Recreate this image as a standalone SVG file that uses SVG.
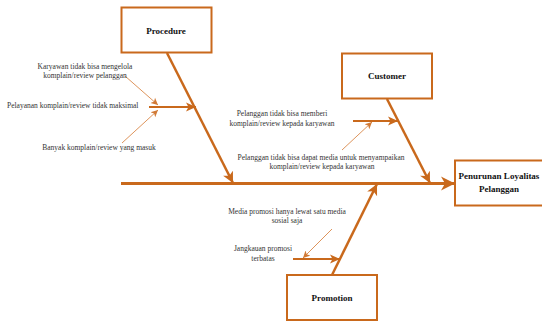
<svg xmlns="http://www.w3.org/2000/svg" width="542" height="322" viewBox="0 0 542 322">
  <style>
    .box { fill: #ffffff; stroke: #C9691C; stroke-width: 2; }
    .title { font-family: "Liberation Serif", "Times New Roman", serif; font-size: 9px; font-weight: bold; fill: #111; text-anchor: middle; }
    .note { font-family: "Liberation Serif", "Times New Roman", serif; font-size: 7.5px; fill: #333; text-anchor: middle; }
    .spine { stroke: #C9691C; stroke-width: 3; fill: none; }
    .bone { stroke: #C9691C; stroke-width: 2.5; fill: none; }
    .sub { stroke: #C9691C; stroke-width: 2; fill: none; }
    .thin { stroke: #D9884A; stroke-width: 0.9; fill: none; }
  </style>
  <defs>
    <marker id="headL" markerUnits="userSpaceOnUse" markerWidth="16" markerHeight="16" refX="14" refY="8" orient="auto">
      <path d="M0,1 L14,8 L0,15 L4,8 z" fill="#C9691C"/>
    </marker>
    <marker id="headM" markerUnits="userSpaceOnUse" markerWidth="14" markerHeight="14" refX="11" refY="6" orient="auto">
      <path d="M0,0.5 L11,6 L0,11.5 L3,6 z" fill="#C9691C"/>
    </marker>
    <marker id="headS" markerUnits="userSpaceOnUse" markerWidth="12" markerHeight="12" refX="10" refY="5" orient="auto">
      <path d="M0,0.5 L10,5 L0,9.5 L2.5,5 z" fill="#C9691C"/>
    </marker>
    <marker id="headT" markerUnits="userSpaceOnUse" markerWidth="10" markerHeight="10" refX="7" refY="4" orient="auto">
      <path d="M0,0.5 L7,4 L0,7.5 L1.8,4 z" fill="#D17A36"/>
    </marker>
  </defs>

  <!-- connectors: spine, category bones, cause arrows -->
  <g id="connectors">
    <line class="spine" x1="121" y1="183.5" x2="455" y2="183.5" marker-end="url(#headL)"/>
    <line class="bone" x1="167" y1="53" x2="233" y2="183" marker-end="url(#headM)"/>
    <line class="bone" x1="387" y1="99" x2="430" y2="183" marker-end="url(#headM)"/>
    <line class="bone" x1="332" y1="275" x2="377" y2="184" marker-end="url(#headM)"/>
    <line class="sub" x1="149" y1="107" x2="196" y2="107" marker-end="url(#headS)"/>
    <line class="sub" x1="353" y1="121" x2="398" y2="121" marker-end="url(#headS)"/>
    <line class="sub" x1="293" y1="259" x2="340" y2="259" marker-end="url(#headS)"/>
    <line class="thin" x1="125" y1="76" x2="158" y2="105" marker-end="url(#headT)"/>
    <line class="thin" x1="122" y1="143" x2="158" y2="110" marker-end="url(#headT)"/>
    <line class="thin" x1="342" y1="150" x2="372" y2="122" marker-end="url(#headT)"/>
    <line class="thin" x1="332" y1="229" x2="303" y2="258" marker-end="url(#headT)"/>
  </g>

  <g id="procedure">
    <rect class="box" x="121.5" y="7.5" width="90" height="45"/>
    <text class="title" x="166" y="34">Procedure</text>
  </g>

  <g id="customer">
    <rect class="box" x="342" y="53.5" width="90" height="45"/>
    <text class="title" x="387" y="79">Customer</text>
  </g>

  <g id="promotion">
    <rect class="box" x="287" y="275" width="90" height="45"/>
    <text class="title" x="332" y="301">Promotion</text>
  </g>

  <g id="effect">
    <rect class="box" x="455" y="160.5" width="92" height="45"/>
    <text class="title" x="499" y="179">Penurunan Loyalitas</text>
    <text class="title" x="499" y="192">Pelanggan</text>
  </g>

  <g id="procedure-causes">
    <text class="note" x="85" y="69">Karyawan tidak bisa mengelola</text>
    <text class="note" x="85" y="78">komplain/review pelanggan</text>
    <text class="note" x="7" y="108" style="text-anchor:start">Pelayanan komplain/review tidak maksimal</text>
    <text class="note" x="99" y="150">Banyak komplain/review yang masuk</text>
  </g>

  <g id="customer-causes">
    <text class="note" x="282" y="116">Pelanggan tidak bisa memberi</text>
    <text class="note" x="282" y="126">komplain/review kepada karyawan</text>
    <text class="note" x="321" y="160">Pelanggan tidak bisa dapat media untuk menyampaikan</text>
    <text class="note" x="322" y="169">komplain/review kepada karyawan</text>
  </g>

  <g id="promotion-causes">
    <text class="note" x="287" y="214">Media promosi hanya lewat satu media</text>
    <text class="note" x="287" y="223">sosial saja</text>
    <text class="note" x="263" y="251">Jangkauan promosi</text>
    <text class="note" x="263" y="261">terbatas</text>
  </g>
</svg>
